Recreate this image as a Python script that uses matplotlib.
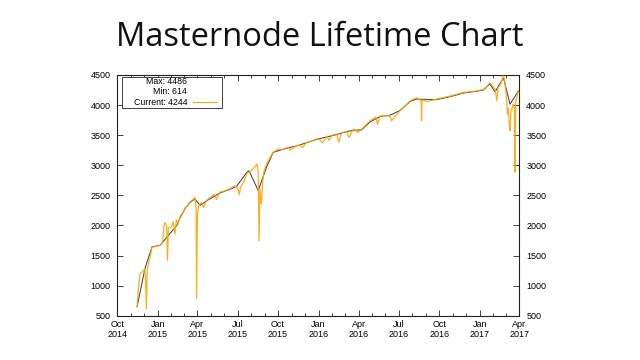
import matplotlib
matplotlib.use("Agg")
import matplotlib.pyplot as plt
import matplotlib.dates as mdates
from matplotlib.patches import Rectangle
import pandas as pd

# ---- data ----
orange_dates = [
    "2014-11-15", "2014-11-19", "2014-11-22", "2014-11-27", "2014-12-02", "2014-12-04",
    "2014-12-06", "2014-12-08", "2014-12-12", "2014-12-19", "2014-12-28", "2015-01-06",
    "2015-01-12", "2015-01-15", "2015-01-18", "2015-01-21", "2015-01-23", "2015-01-25",
    "2015-02-01", "2015-02-05", "2015-02-09", "2015-02-12", "2015-02-16", "2015-02-20",
    "2015-03-01", "2015-03-04", "2015-03-10", "2015-03-15", "2015-03-22", "2015-03-26",
    "2015-03-29", "2015-03-30", "2015-04-01", "2015-04-04", "2015-04-10", "2015-04-15",
    "2015-04-22", "2015-05-01", "2015-05-10", "2015-05-14", "2015-05-22", "2015-06-01",
    "2015-06-14", "2015-06-24", "2015-06-29", "2015-07-03", "2015-07-05", "2015-07-08",
    "2015-07-15", "2015-07-22", "2015-08-02", "2015-08-08", "2015-08-14", "2015-08-17",
    "2015-08-19", "2015-08-21", "2015-08-24", "2015-08-27", "2015-08-30", "2015-09-05",
    "2015-09-12", "2015-09-20", "2015-10-02", "2015-10-10", "2015-10-24", "2015-10-28",
    "2015-11-12", "2015-11-20", "2015-11-25", "2015-12-05", "2015-12-15", "2015-12-28",
    "2016-01-05", "2016-01-10", "2016-01-20", "2016-01-25", "2016-02-01", "2016-02-11",
    "2016-02-16", "2016-02-22", "2016-03-05", "2016-03-10", "2016-03-20", "2016-03-31",
    "2016-04-08", "2016-04-27", "2016-05-10", "2016-05-14", "2016-05-20", "2016-06-11",
    "2016-06-15", "2016-07-04", "2016-07-27", "2016-08-11", "2016-08-18", "2016-08-21",
    "2016-08-22", "2016-08-23", "2016-08-26", "2016-09-05", "2016-09-25", "2016-10-26",
    "2016-11-25", "2016-12-25", "2017-01-09", "2017-01-15", "2017-01-24", "2017-02-01",
    "2017-02-05", "2017-02-09", "2017-02-12", "2017-02-16", "2017-02-24", "2017-02-27",
    "2017-03-03", "2017-03-05", "2017-03-07", "2017-03-09", "2017-03-11", "2017-03-13",
    "2017-03-16", "2017-03-18", "2017-03-21", "2017-03-22", "2017-03-24", "2017-03-27",
    "2017-03-30",
]
orange_values = [
    650, 1050, 1200, 1230, 1280, 1150,
    614, 1250, 1400, 1640, 1650, 1670,
    1720, 2000, 2050, 1980, 1420, 1950,
    1980, 2060, 1860, 2090, 2030, 2140,
    2240, 2290, 2330, 2390, 2430, 2470,
    2300, 790, 2200, 2330, 2380, 2300,
    2420, 2470, 2520, 2430, 2555, 2570,
    2610, 2660, 2640, 2580, 2510, 2640,
    2720, 2860, 2920, 2960, 3020, 2900,
    1740, 2600, 2360, 2700, 2900, 3020,
    3120, 3215, 3270, 3260, 3300, 3250,
    3325, 3340, 3290, 3380, 3400, 3440,
    3420, 3370, 3490, 3410, 3500, 3520,
    3380, 3540, 3560, 3460, 3600, 3545,
    3600, 3740, 3800, 3680, 3820, 3820,
    3740, 3905, 4070, 4125, 4090, 4080,
    3740, 4080, 4080, 4060, 4100, 4150,
    4210, 4235, 4260, 4290, 4370, 4300,
    4265, 4070, 4300, 4320, 4486, 4400,
    4125, 3850, 3950, 3700, 3575, 3900,
    3950, 4015, 3950, 2885, 4050, 4150,
    4244,
]

black_dates = [
    "2014-11-15", "2014-12-03", "2014-12-19", "2015-01-06", "2015-01-13", "2015-02-13",
    "2015-02-20", "2015-03-04", "2015-03-15", "2015-03-26", "2015-04-07", "2015-04-22",
    "2015-05-22", "2015-06-14", "2015-06-29", "2015-07-22", "2015-07-27", "2015-08-17",
    "2015-09-05", "2015-09-20", "2015-10-24", "2015-11-12", "2015-12-28", "2016-02-11",
    "2016-03-05", "2016-03-20", "2016-04-08", "2016-04-27", "2016-05-20", "2016-06-11",
    "2016-07-04", "2016-07-27", "2016-08-11", "2016-09-25", "2016-10-26", "2016-11-25",
    "2016-12-25", "2017-01-09", "2017-01-24", "2017-02-05", "2017-02-24", "2017-03-11",
    "2017-03-30",
]
black_values = [
    650, 1290, 1645, 1670, 1730, 2000,
    2120, 2280, 2380, 2440, 2335, 2410,
    2540, 2600, 2650, 2880, 2910, 2580,
    2970, 3215, 3290, 3320, 3430, 3510,
    3560, 3580, 3590, 3720, 3810, 3830,
    3910, 4060, 4100, 4090, 4140, 4200,
    4230, 4250, 4350, 4220, 4455, 4015,
    4235,
]

legend_lines = ["Max: 4486", "Min: 614", "Current: 4244"]
title = "Masternode Lifetime Chart"
x_start, x_end = "2014-10-01", "2017-04-01"
y_ticks = [500, 1000, 1500, 2000, 2500, 3000, 3500, 4000, 4500]

# ---- figure ----
W, H = 640, 360
L, R, T, B = 117.3, 519.3, 75.0, 315.7
fig = plt.figure(figsize=(6.4, 3.6), dpi=100)
fig.patch.set_facecolor("white")
ax = fig.add_axes([L / W, 1 - B / H, (R - L) / W, (B - T) / H])

od = pd.to_datetime(orange_dates)
bd = pd.to_datetime(black_dates)
ax.plot(bd, black_values, color="#3a3a3a", lw=0.7, zorder=2)
ax.plot(od, orange_values, color="#FFA500", lw=0.9, zorder=3, alpha=0.9)

ax.set_xlim(pd.Timestamp(x_start), pd.Timestamp(x_end))
ax.set_ylim(y_ticks[0], y_ticks[-1])
ax.set_yticks(y_ticks)

ax.xaxis.set_major_locator(mdates.MonthLocator(bymonth=[1, 4, 7, 10]))
ax.xaxis.set_major_formatter(mdates.DateFormatter("%b\n%Y"))
ax.xaxis.set_minor_locator(mdates.MonthLocator())

tick_font = "Liberation Sans"
ax.tick_params(which="both", direction="in", top=True, right=True,
               labelright=True, width=0.6, color="#222222")
ax.tick_params(which="major", length=4, labelsize=6.5, pad=5)
ax.tick_params(which="minor", length=2)
ax.tick_params(axis="x", pad=3)
for tick in ax.xaxis.get_major_ticks() + ax.yaxis.get_major_ticks():
    tick.label1.set_fontfamily(tick_font)
    tick.label2.set_fontfamily(tick_font)

for s in ax.spines.values():
    s.set_linewidth(0.8)
    s.set_color("#222222")

def axpt(x, y):
    return (x - L) / (R - L), (B - y) / (B - T)

# legend box (gnuplot style: right-aligned text, line sample)
x0, y0 = axpt(121.7, 108.3)
x1, y1 = axpt(221.7, 76.7)
box = Rectangle((x0, y0), x1 - x0, y1 - y0, transform=ax.transAxes,
                fill=True, lw=0.6, edgecolor="#222222", facecolor="white", zorder=5)
ax.add_patch(box)
for txt, yp in zip(legend_lines, [81, 91.7, 102.3]):
    tx, ty = axpt(187.3, yp)
    ax.text(tx, ty, txt, transform=ax.transAxes, ha="right", va="center",
            fontsize=6.3, family=tick_font, zorder=6)
lx0, ly = axpt(193.3, 102.3)
lx1, _ = axpt(216.7, 102.3)
ax.plot([lx0, lx1], [ly, ly], transform=ax.transAxes, color="#FFA500", lw=0.8, zorder=6)

fig.text(0.5, 1 - 38 / H, title, ha="center", va="center",
         fontsize=23.5, family="Open Sans", color="#111111")

fig.savefig("out.png", dpi=100)
